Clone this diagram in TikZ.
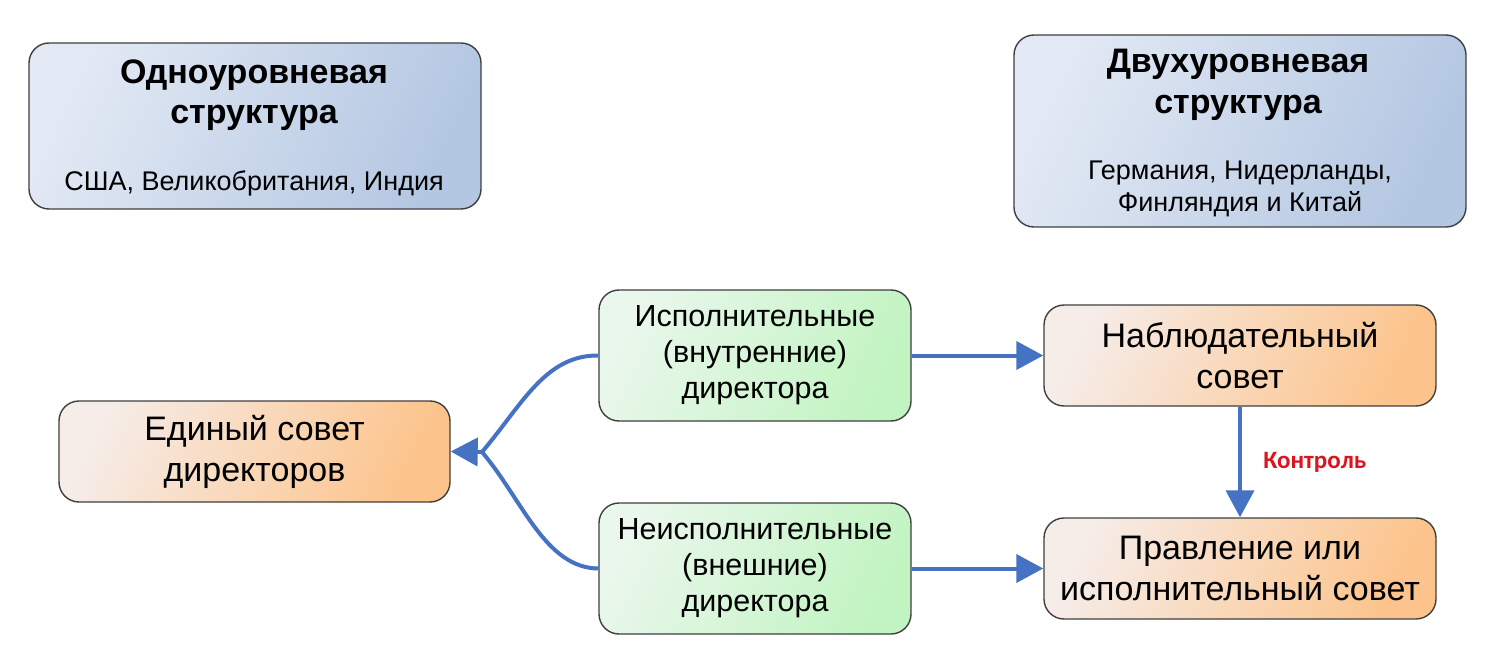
\documentclass[tikz,border=0pt]{standalone}
\usepackage{fontspec}
\setmainfont{Liberation Sans}
\newfontfamily\calib{Carlito}
\usetikzlibrary{arrows.meta}
\definecolor{arrowblue}{RGB}{70,114,196}
\definecolor{bordergray}{RGB}{64,64,64}
\definecolor{blueL}{RGB}{226,233,244}
\definecolor{blueR}{RGB}{180,199,226}
\definecolor{greenL}{RGB}{234,247,236}
\definecolor{greenR}{RGB}{194,244,194}
\definecolor{orangeL}{RGB}{246,236,232}
\definecolor{orangeR}{RGB}{252,196,140}
\definecolor{ctlred}{RGB}{220,20,30}
\tikzset{
  box/.style={draw=bordergray, line width=1.4pt, rounded corners=20pt, align=center, inner sep=0pt},
  bluebox/.style={box, left color=blueL, right color=blueR, shading angle=65},
  greenbox/.style={box, left color=greenL, right color=greenR, shading angle=65},
  orangebox/.style={box, left color=orangeL, right color=orangeR, shading angle=65},
  titletext/.style={align=center, inner sep=0pt, font=\fontsize{34}{40}\selectfont\bfseries},
  subtext/.style={align=center, inner sep=0pt, font=\fontsize{27}{32}\selectfont},
  greentext/.style={font=\fontsize{30.5}{36}\selectfont},
  orangetext/.style={font=\fontsize{34}{41}\selectfont},
  conn/.style={draw=arrowblue, line width=4pt},
  headarrow/.style={conn, -{Triangle[length=27pt,width=28pt]}},
}
\begin{document}
\begin{tikzpicture}[x=1pt,y=-1pt]
\useasboundingbox (0,0) rectangle (1500,666);
\fill[white] (0,0) rectangle (1500,666);
% top boxes
\node[bluebox, minimum width=452pt, minimum height=166pt] (one) at (255,126) {};
\node[titletext] (onetitle) at (254,95) {Одноуровневая\\структура};
\node[subtext] (onesub) at (254,183) {США, Великобритания, Индия};
\node[bluebox, minimum width=452pt, minimum height=192pt] (two) at (1240,131) {};
\node[titletext, font=\fontsize{34}{41}\selectfont\bfseries] (twotitle) at (1238,85) {Двухуровневая\\структура};
\node[subtext] (twosub) at (1240,189) {Германия, Нидерланды,\\Финляндия и Китай};
% green boxes
\node[greenbox, greentext, minimum width=312pt, minimum height=131pt] (exec) at (755,355.5)
  {Исполнительные\\(внутренние)\\директора};
\node[greenbox, greentext, minimum width=312pt, minimum height=131pt] (nonexec) at (755,568.5)
  {Неисполнительные\\(внешние)\\директора};
% orange boxes
\node[orangebox, orangetext, minimum width=391pt, minimum height=101pt] (single) at (254.5,451.5)
  {Единый совет\\директоров};
\node[orangebox, orangetext, minimum width=392pt, minimum height=101pt] (super) at (1240,355.5)
  {Наблюдательный\\совет};
\node[orangebox, orangetext, minimum width=392pt, minimum height=101pt] (board) at (1240,568.5)
  {Правление или\\исполнительный совет};
% connectors
\coordinate (merge) at (482,452);
\draw[conn] (exec.west) .. controls (545,355) and (522,405) .. (merge);
\draw[conn] (nonexec.west) .. controls (545,568) and (522,499) .. (merge);
\draw[headarrow] (merge) -- (single.east);
\draw[headarrow] (exec.east) -- (super.west);
\draw[headarrow] (nonexec.east) -- (board.west);
\draw[headarrow] (super.south) -- node[right=18pt, text=ctlred, font=\calib\bfseries\fontsize{25}{30}\selectfont] (ctl) {Контроль} (board.north);
\end{tikzpicture}
\end{document}
